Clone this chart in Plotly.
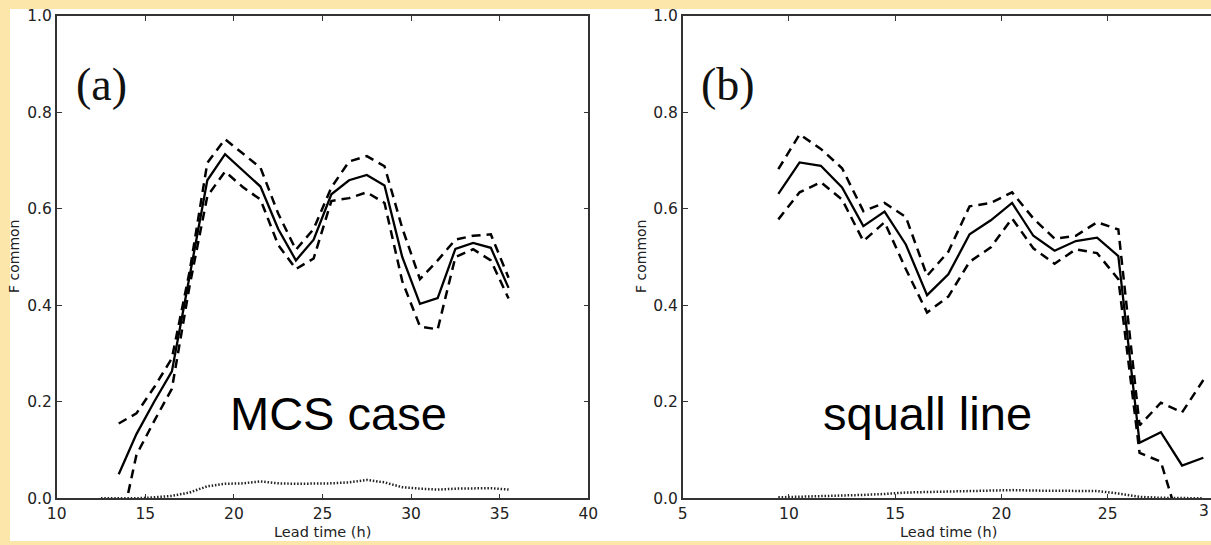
import plotly.graph_objects as go

# ---------------- data ----------------
# Panel (a): MCS case
lead_a = [13.5, 14.5, 15.5, 16.5, 17.5, 18.5, 19.5, 20.5, 21.5, 22.5, 23.5, 24.5,
          25.5, 26.5, 27.5, 28.5, 29.5, 30.5, 31.5, 32.5, 33.5, 34.5, 35.5]
mean_a = [0.050, 0.133, 0.200, 0.263, 0.460, 0.659, 0.713, 0.680, 0.646, 0.558, 0.493, 0.536,
          0.630, 0.659, 0.670, 0.648, 0.500, 0.403, 0.415, 0.517, 0.529, 0.519, 0.436]
upper_a = [0.155, 0.176, 0.230, 0.290, 0.470, 0.695, 0.744, 0.715, 0.685, 0.590, 0.515, 0.558,
           0.644, 0.698, 0.709, 0.688, 0.560, 0.454, 0.493, 0.536, 0.544, 0.547, 0.457]
lower_a = [-0.080, 0.090, 0.160, 0.227, 0.440, 0.626, 0.677, 0.645, 0.619, 0.525, 0.475, 0.497,
           0.616, 0.622, 0.634, 0.612, 0.450, 0.356, 0.350, 0.500, 0.516, 0.493, 0.414]
lead_a_dot = [12.5, 13.5, 14.5, 15.5, 16.5, 17.5, 18.5, 19.5, 20.5, 21.5, 22.5, 23.5,
              24.5, 25.5, 26.5, 27.5, 28.5, 29.5, 30.5, 31.5, 32.5, 33.5, 34.5, 35.5]
dot_a = [0.000, 0.000, 0.000, 0.002, 0.005, 0.012, 0.025, 0.030, 0.031, 0.035, 0.031, 0.030,
         0.030, 0.031, 0.033, 0.038, 0.033, 0.023, 0.020, 0.018, 0.020, 0.021, 0.021, 0.018]

# Panel (b): squall line
lead_b = [9.5, 10.5, 11.5, 12.5, 13.5, 14.5, 15.5, 16.5, 17.5, 18.5, 19.5, 20.5,
          21.5, 22.5, 23.5, 24.5, 25.5, 26.5, 27.5, 28.5, 29.5]
mean_b = [0.631, 0.696, 0.689, 0.644, 0.564, 0.594, 0.526, 0.421, 0.464, 0.547, 0.576, 0.612,
          0.544, 0.513, 0.533, 0.540, 0.502, 0.115, 0.137, 0.068, 0.084]
upper_b = [0.682, 0.754, 0.724, 0.684, 0.595, 0.612, 0.583, 0.461, 0.511, 0.605, 0.612, 0.634,
           0.580, 0.538, 0.544, 0.572, 0.557, 0.151, 0.198, 0.178, 0.245]
lower_b = [0.578, 0.634, 0.655, 0.619, 0.533, 0.572, 0.475, 0.385, 0.418, 0.490, 0.520, 0.580,
           0.518, 0.486, 0.516, 0.508, 0.454, 0.094, 0.076, -0.070, -0.080]
dot_b = [0.002, 0.003, 0.004, 0.005, 0.007, 0.009, 0.012, 0.013, 0.014, 0.015, 0.017, 0.017,
         0.016, 0.016, 0.016, 0.015, 0.010, 0.003, 0.001, 0.000, 0.000]

x_ticks_a = [10, 15, 20, 25, 30, 35, 40]
x_ticks_b = [5, 10, 15, 20, 25]
y_ticks = [0.0, 0.2, 0.4, 0.6, 0.8, 1.0]
y_tick_text = ["0.0", "0.2", "0.4", "0.6", "0.8", "1.0"]

# ---------------- layout geometry (pixels) ----------------
W, H = 1211, 545
ax_a_left, ax_a_right = 56.7, 588.3
ax_b_left = 682.7
px_per_h_b = 21.25
ax_top, ax_bot = 15.7, 498.3

def px_x(p):
    return p / W

def px_y(p):
    return (H - p) / H

fig = go.Figure()

SOLID = dict(color="black", width=2.3)
DASH = dict(color="black", width=2.5, dash="9px,6px")
DOT = dict(color="#222222", width=2.5, dash="1.5px,1.8px")

for xa, ya, lead, mean, up, lo, ld, dot in [
    ("x", "y", lead_a, mean_a, upper_a, lower_a, lead_a_dot, dot_a),
    ("x2", "y2", lead_b, mean_b, upper_b, lower_b, lead_b, dot_b),
]:
    fig.add_trace(go.Scatter(x=ld, y=dot, mode="lines", line=DOT, xaxis=xa, yaxis=ya, showlegend=False))
    fig.add_trace(go.Scatter(x=lead, y=up, mode="lines", line=DASH, xaxis=xa, yaxis=ya, showlegend=False))
    fig.add_trace(go.Scatter(x=lead, y=lo, mode="lines", line=DASH, xaxis=xa, yaxis=ya, showlegend=False))
    fig.add_trace(go.Scatter(x=lead, y=mean, mode="lines", line=SOLID, xaxis=xa, yaxis=ya, showlegend=False))

tickfont = dict(family="DejaVu Sans", size=15.5, color="#222222")
common_axis = dict(showgrid=False, zeroline=False, showline=True, linecolor="#333333", linewidth=1.6,
                   ticks="inside", ticklen=5, tickcolor="#333333", tickwidth=1, tickfont=tickfont,
                   automargin=False)

xmax_b = 5 + (W - ax_b_left) / px_per_h_b

fig.update_layout(
    width=W, height=H,
    margin=dict(l=0, r=0, t=0, b=0, pad=0, autoexpand=False),
    paper_bgcolor="#FCE6AA",
    plot_bgcolor="white",
    xaxis=dict(domain=[px_x(ax_a_left), px_x(ax_a_right)], range=[10, 40], tickvals=x_ticks_a,
               mirror="ticks", anchor="y", **common_axis),
    yaxis=dict(domain=[px_y(ax_bot), px_y(ax_top)], range=[0, 1], tickvals=y_ticks, ticktext=y_tick_text,
               mirror="ticks", anchor="x", **common_axis),
    xaxis2=dict(domain=[px_x(ax_b_left), 1.0], range=[5, xmax_b], tickvals=x_ticks_b,
                mirror="ticks", anchor="y2", **common_axis),
    yaxis2=dict(domain=[px_y(ax_bot), px_y(ax_top)], range=[0, 1], tickvals=y_ticks, ticktext=y_tick_text,
                mirror=False, anchor="x2", **common_axis),
    shapes=[
        dict(type="rect", xref="paper", yref="paper", x0=px_x(10), x1=1.0, y0=px_y(541), y1=px_y(9),
             fillcolor="white", line=dict(width=0), layer="below"),
    ],
)

ann = []
label_font = dict(family="DejaVu Sans", size=14.5, color="#222222")
# axis titles
for cx in [(ax_a_left + ax_a_right) / 2, (ax_b_left + ax_b_left + 25 * px_per_h_b) / 2]:
    ann.append(dict(text="Lead time (h)", x=px_x(cx), y=px_y(532), xref="paper", yref="paper",
                    showarrow=False, font=label_font, xanchor="center", yanchor="middle"))
for cx in [14, 641]:
    ann.append(dict(text="F common", x=px_x(cx), y=px_y((ax_top + ax_bot) / 2), xref="paper", yref="paper",
                    showarrow=False, font=dict(family="DejaVu Sans", size=14, color="#222222"),
                    textangle=-90, xanchor="center", yanchor="middle"))
# partially visible "30" tick label at the cut right edge of panel (b)
ann.append(dict(text="3", x=1.0, y=px_y(511), xref="paper", yref="paper",
                showarrow=False, font=tickfont, xanchor="right", yanchor="middle"))
# panel letters
ann.append(dict(text="(a)", x=px_x(101), y=px_y(84), xref="paper", yref="paper", showarrow=False,
                font=dict(family="Liberation Serif", size=46, color="#111111"), xanchor="center", yanchor="middle"))
ann.append(dict(text="(b)", x=px_x(728), y=px_y(84), xref="paper", yref="paper", showarrow=False,
                font=dict(family="Liberation Serif", size=46, color="#111111"), xanchor="center", yanchor="middle"))
# case labels
ann.append(dict(text="MCS case", x=px_x(338), y=px_y(414), xref="paper", yref="paper", showarrow=False,
                font=dict(family="Liberation Sans", size=47, color="black"), xanchor="center", yanchor="middle"))
ann.append(dict(text="squall line", x=px_x(927), y=px_y(414), xref="paper", yref="paper", showarrow=False,
                font=dict(family="Liberation Sans", size=47, color="black"), xanchor="center", yanchor="middle"))

fig.update_layout(annotations=ann)

post = ("document.body.style.margin='0';document.body.style.padding='0';"
        "document.body.style.overflow='hidden';document.documentElement.style.overflow='hidden';")
fig.write_html("out.html", post_script=post, config={"displayModeBar": False})
